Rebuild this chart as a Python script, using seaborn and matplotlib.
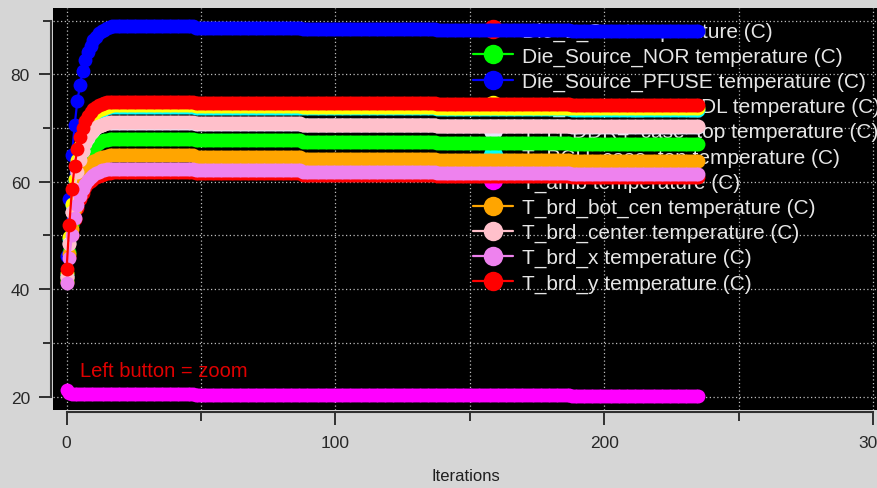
import numpy as np
import pandas as pd
import matplotlib
matplotlib.use("Agg")
import matplotlib.pyplot as plt
from matplotlib.lines import Line2D
from matplotlib.ticker import FixedLocator
import seaborn as sns

# ---- data -------------------------------------------------------------
series_names = [
    "Die_1_Src temperature (C)",
    "Die_Source_NOR temperature (C)",
    "Die_Source_PFUSE temperature (C)",
    "Die_Source_MUX_DL temperature (C)",
    "T_LPDDR4_case_top temperature (C)",
    "T_PCH_case_top temperature (C)",
    "T_amb temperature (C)",
    "T_brd_bot_cen temperature (C)",
    "T_brd_center temperature (C)",
    "T_brd_x temperature (C)",
    "T_brd_y temperature (C)",
]
series_colors = ["#ff0000", "#00ff00", "#0000ff", "#ffff00", "#e6e6fa", "#00ffff",
                 "#ff00ff", "#ffa500", "#ffc0cb", "#ee82ee", "#ff0000"]
# order in which the traces are painted (later ones sit on top)
draw_order = [0, 1, 2, 5, 3, 4, 6, 7, 8, 9, 10]

# warm-up phase, iterations 0..17
die1_rise = [42.0, 46.0, 50.0, 53.0, 55.2, 56.8, 58.0, 59.0, 59.7, 60.2, 60.6, 60.9, 61.1, 61.3, 61.5, 61.6, 61.7, 61.8]
nor_rise = [41.8, 47.0, 52.0, 55.9, 58.8, 61.0, 62.7, 64.0, 65.0, 65.8, 66.4, 66.9, 67.2, 67.5, 67.7, 67.85, 67.95, 68.0]
pfuse_rise = [46.2, 56.8, 64.9, 70.6, 75.0, 78.0, 80.7, 82.6, 84.1, 85.3, 86.3, 87.0, 87.6, 88.0, 88.3, 88.6, 88.8, 88.9]
muxdl_rise = [43.0, 49.8, 55.9, 60.6, 64.0, 66.6, 68.5, 69.9, 71.0, 71.8, 72.4, 72.9, 73.3, 73.6, 73.8, 74.0, 74.15, 74.25]
lpddr_rise = [42.3, 48.6, 54.4, 58.7, 61.8, 64.1, 65.8, 67.2, 68.2, 69.0, 69.5, 70.0, 70.3, 70.5, 70.7, 70.9, 71.0, 71.0]
pch_rise = [42.6, 49.4, 55.7, 60.3, 63.7, 66.2, 68.1, 69.6, 70.6, 71.4, 72.0, 72.5, 72.9, 73.2, 73.5, 73.7, 73.85, 73.95]
amb_rise = [21.3, 20.7, 20.5, 20.5, 20.5, 20.5, 20.5, 20.5, 20.5, 20.5, 20.5, 20.5, 20.5, 20.5, 20.5, 20.5, 20.5, 20.5]
botcen_rise = [41.4, 46.6, 51.3, 54.9, 57.4, 59.3, 60.8, 61.9, 62.7, 63.3, 63.8, 64.1, 64.4, 64.6, 64.7, 64.8, 64.9, 64.9]
center_rise = [42.2, 48.5, 54.3, 58.6, 61.8, 64.1, 65.8, 67.3, 68.3, 69.1, 69.6, 70.1, 70.4, 70.6, 70.8, 71.0, 71.1, 71.1]
brdx_rise = [41.2, 45.9, 50.1, 53.3, 55.6, 57.3, 58.6, 59.6, 60.4, 60.9, 61.3, 61.7, 61.9, 62.1, 62.2, 62.3, 62.4, 62.4]
brdy_rise = [43.8, 52.0, 58.6, 63.0, 66.1, 68.3, 70.0, 71.3, 72.3, 73.0, 73.6, 74.0, 74.3, 74.5, 74.7, 74.8, 74.85, 74.9]

# settled phase: constant levels, each held until the iteration in segment_ends
segment_ends = [47, 87, 137, 187, 235]
die1_levels = [61.8, 61.55, 61.3, 61.1, 60.9]
nor_levels = [68.0, 67.75, 67.45, 67.2, 67.0]
pfuse_levels = [88.95, 88.7, 88.45, 88.25, 88.1]
muxdl_levels = [74.25, 74.1, 73.95, 73.8, 73.7]
lpddr_levels = [71.0, 70.75, 70.5, 70.35, 70.2]
pch_levels = [73.95, 73.8, 73.65, 73.5, 73.4]
amb_levels = [20.45, 20.4, 20.3, 20.25, 20.2]
botcen_levels = [64.9, 64.6, 64.3, 64.0, 63.8]
center_levels = [71.1, 70.85, 70.6, 70.45, 70.3]
brdx_levels = [62.4, 62.15, 61.9, 61.65, 61.45]
brdy_levels = [74.9, 74.75, 74.6, 74.45, 74.35]

x_ticks_major = [0, 100, 200, 300]
x_ticks_minor = [50, 150, 250]
y_ticks_major = [20, 40, 60, 80]
y_ticks_minor = [30, 50, 70, 90]

rises = [die1_rise, nor_rise, pfuse_rise, muxdl_rise, lpddr_rise, pch_rise,
         amb_rise, botcen_rise, center_rise, brdx_rise, brdy_rise]
levels = [die1_levels, nor_levels, pfuse_levels, muxdl_levels, lpddr_levels, pch_levels,
          amb_levels, botcen_levels, center_levels, brdx_levels, brdy_levels]

# ---- assemble long table -----------------------------------------------
seg_lengths = np.diff([len(die1_rise) - 1] + segment_ends)
frames = []
for name, rise, lev in zip(series_names, rises, levels):
    vals = np.concatenate([rise, np.repeat(lev, seg_lengths)])
    frames.append(pd.DataFrame({"Iterations": np.arange(len(vals)),
                                "temp": vals, "series": name}))
df = pd.concat(frames, ignore_index=True)

# ---- figure ---------------------------------------------------------------
sns.set_style("dark")
plt.rcParams["font.family"] = ["Liberation Sans", "DejaVu Sans"]
bg = "#d6d6d6"
fig = plt.figure(figsize=(8.78, 4.89), dpi=100, facecolor=bg)
ax = fig.add_axes([53 / 878, 78 / 489, 825 / 878, 402 / 489])
ax.set_facecolor("black")

palette = dict(zip(series_names, series_colors))
sns.lineplot(data=df, x="Iterations", y="temp", hue="series",
             hue_order=[series_names[i] for i in draw_order],
             palette=palette, marker="o", markersize=10, markeredgewidth=0,
             linewidth=1.6, estimator=None, sort=False, legend=False, ax=ax, zorder=3)

ax.set_xlim(-5.06, 301.9)
ax.set_ylim(17.52, 92.34)

# bracket-style axes
for side in ("top", "right"):
    ax.spines[side].set_visible(False)
for side in ("left", "bottom"):
    sp = ax.spines[side]
    sp.set_visible(True)
    sp.set_color("#303030")
    sp.set_linewidth(1.5)
    sp.set_position(("outward", 1.5))
ax.spines["left"].set_bounds(20, 90)
ax.spines["bottom"].set_bounds(0, 300)

ax.xaxis.set_major_locator(FixedLocator(x_ticks_major))
ax.xaxis.set_minor_locator(FixedLocator(x_ticks_minor))
ax.yaxis.set_major_locator(FixedLocator(y_ticks_major))
ax.yaxis.set_minor_locator(FixedLocator(y_ticks_minor))

ax.tick_params(axis="both", which="both", direction="out", color="#303030", width=1.4,
               labelcolor="#282828", bottom=True, left=True, labelsize=12.5)
ax.tick_params(axis="y", which="major", length=8.6, pad=6.5)
ax.tick_params(axis="y", which="minor", length=5.8)
ax.tick_params(axis="x", which="major", length=9.4, pad=7)
ax.tick_params(axis="x", which="minor", length=6.2)

ax.grid(True, which="both", color="#bdbdbd", linestyle=(0, (1, 2)), linewidth=0.9)
ax.set_axisbelow(True)

ax.set_xlabel("Iterations", fontsize=12, color="#202020", labelpad=13)
ax.set_ylabel("")

# legend sits underneath the traces
handles = [Line2D([], [], color=c, marker="o", markersize=14, markeredgewidth=0, linewidth=1.6)
           for c in series_colors]
leg = ax.legend(handles, series_names, loc="upper left",
                bbox_to_anchor=(473 / 878, 1 - 22.5 / 489), bbox_transform=fig.transFigure,
                frameon=False, fontsize=15, labelcolor="#e6e6e6", borderpad=0,
                borderaxespad=0, handlelength=1.92, handletextpad=0.43,
                labelspacing=0.285)
leg.set_zorder(1.5)

ax.text((80 - 53) / 825, 0.0995, "Left button = zoom", transform=ax.transAxes,
        color="#e00000", fontsize=14.5, va="center", ha="left", zorder=2)

fig.savefig("out.png", dpi=100, facecolor=bg)
